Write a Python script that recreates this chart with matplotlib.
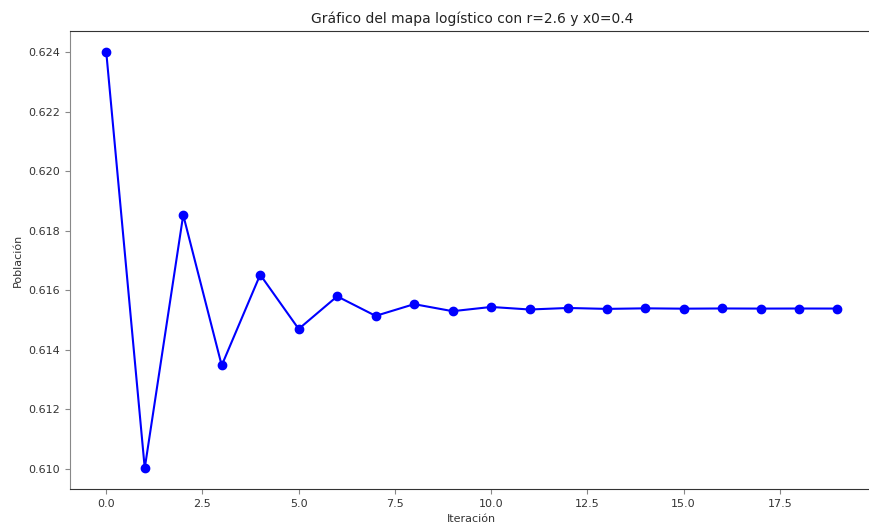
import matplotlib.pyplot as plt

iteraciones = list(range(20))
poblacion = [0.624, 0.6100224, 0.6185272, 0.6134734, 0.6165218, 0.6146989,
             0.6157948, 0.6151381, 0.6155324, 0.6152959, 0.6154378, 0.6153527,
             0.6154038, 0.6153731, 0.6153915, 0.6153805, 0.6153871, 0.6153831,
             0.6153855, 0.6153841]

fig = plt.figure(figsize=(8.69, 5.30), dpi=100)
ax = fig.add_axes([0.0802, 0.0774, 0.9256, 0.8636])

ax.plot(iteraciones, poblacion, marker='o', color='blue', markersize=6, linewidth=1.5)

ax.set_title('Gráfico del mapa logístico con r=2.6 y x0=0.4', fontsize=10, color='#222222')
ax.set_xlabel('Iteración', fontsize=8, color='#333333')
ax.set_ylabel('Población', fontsize=8, color='#333333')
ax.tick_params(labelsize=8, colors='#888888', labelcolor='#333333')
ax.spines['left'].set_color('#888888')
for s in ['bottom', 'top', 'right']:
    ax.spines[s].set_color('#333333')

fig.savefig('out.png')
